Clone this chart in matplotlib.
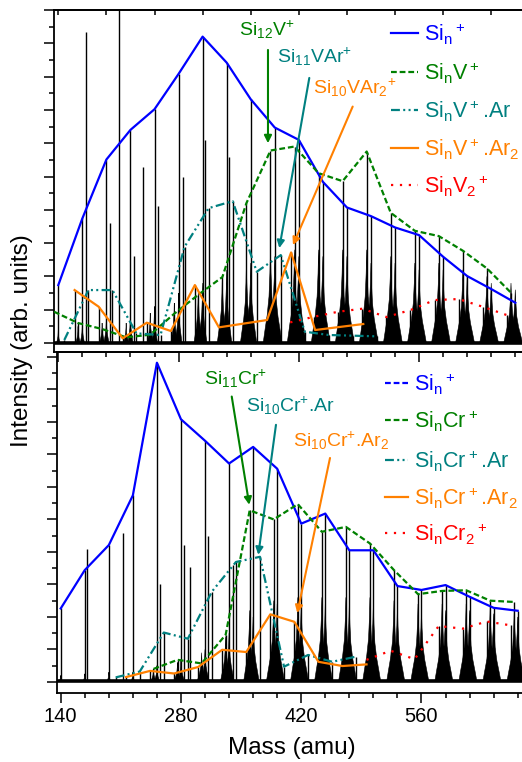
import matplotlib
matplotlib.use("Agg")
import matplotlib.pyplot as plt
from matplotlib.lines import Line2D
from matplotlib.ticker import MultipleLocator, FixedLocator, NullFormatter

plt.rcParams['font.family'] = ['Liberation Sans', 'DejaVu Sans']
plt.rcParams['mathtext.default'] = 'regular'

# ---------------- data: top panel (Si_n V clusters) ----------------
si_mass = [140, 168, 196, 224, 252, 280, 308, 336, 364, 392, 420, 448, 476, 504, 532, 560, 588, 616, 644, 672]
top_si = [1.74, 3.74, 5.51, 6.40, 7.02, 8.08, 9.20, 8.42, 7.32, 6.47, 6.10, 4.84, 4.07, 3.81, 3.47, 3.24, 2.59, 2.01, 1.62, 1.21]

top_v_mass = [135, 163, 191, 219, 247, 275, 303, 331, 359, 387, 415, 443, 471, 499, 527, 555, 583, 611, 639, 667]
top_v = [0.94, 0.60, 0.42, 0.17, 0.25, 0.88, 1.45, 1.98, 4.20, 5.78, 5.90, 5.10, 4.86, 5.75, 3.91, 3.37, 3.21, 2.77, 2.24, 1.51]

top_var_mass = [147, 175, 203, 231, 259, 287, 315, 343, 371, 399, 427, 455, 483, 511]
top_var = [0.09, 1.59, 1.59, 0.29, 0.24, 2.89, 4.05, 4.26, 2.14, 2.64, 0.34, 0.24, 0.22, 0.20]

top_var2_mass = [159, 187, 215, 243, 271, 299, 327, 355, 383, 411, 439, 467, 495]
top_var2 = [1.59, 1.09, 0.14, 0.61, 0.36, 1.74, 0.47, 0.58, 0.69, 2.72, 0.39, 0.48, 0.57]

top_v2_mass = [410, 438, 466, 494, 522, 550, 578, 606, 634, 662]
top_v2 = [0.62, 0.79, 0.94, 1.03, 0.78, 0.99, 1.29, 1.32, 1.09, 0.84]

# extra sharp peaks of the raw spectrum (mass, height)
top_extra_mass = [172, 200, 211, 228, 239, 256, 285, 311, 339]
top_extra_h = [9.35, 3.60, 10.5, 2.60, 5.30, 4.10, 5.00, 6.10, 5.60]

# broad cluster envelopes of the raw spectrum (mass, height, half width in amu)
top_hump_mass = [140, 163, 168, 191, 196, 219, 224, 247, 252, 275, 280, 303, 308, 331, 336, 359, 364,
                 387, 392, 415, 420, 443, 448, 471, 476, 499, 504, 527, 532, 555, 560, 583, 588,
                 611, 616, 639, 644, 667, 672]
top_hump_h = [0.4, 0.5, 0.6, 0.6, 0.8, 0.6, 0.9, 0.9, 1.1, 1.2, 1.5, 1.6, 1.8, 2.0, 2.2, 2.4, 2.4,
              2.8, 2.6, 2.8, 2.6, 2.8, 2.6, 2.8, 2.6, 2.8, 2.4, 2.6, 2.4, 2.4, 2.2, 2.4, 2.2,
              2.2, 2.0, 2.0, 1.8, 1.8, 1.6]
top_hump_w = [2, 2.5, 2.5, 3, 3, 3, 3, 3.5, 3.5, 4, 4, 5, 5, 6, 6, 7, 7,
              8.5, 8.5, 8.5, 8.5, 8.5, 8.5, 8.5, 8.5, 8.5, 8.5, 8.5, 8.5, 8.5, 8.5, 8.5, 8.5,
              8.5, 8.5, 8.5, 8.5, 8.5, 8.5]

# ---------------- data: bottom panel (Si_n Cr clusters) ----------------
bot_si = [2.26, 3.44, 4.21, 5.74, 9.82, 8.08, 7.42, 6.72, 7.23, 6.56, 4.87, 5.18, 4.05, 4.05, 2.95, 2.83, 2.98, 2.62, 2.28, 2.19]

bot_cr_mass = [248, 276, 304, 332, 360, 388, 416, 444, 472, 500, 528, 556, 584, 612, 640, 668]
bot_cr = [0.40, 0.68, 0.57, 1.45, 5.28, 5.00, 5.47, 4.62, 4.77, 4.26, 3.44, 2.70, 2.80, 2.82, 2.50, 2.46]

bot_crar_mass = [204, 232, 260, 288, 316, 344, 372, 400, 428, 456, 484]
bot_crar = [0.14, 0.32, 1.52, 1.33, 2.78, 3.69, 3.85, 0.47, 0.83, 0.62, 0.78]

bot_crar2_mass = [216, 244, 272, 300, 328, 356, 384, 412, 440, 468, 496]
bot_crar2 = [0.15, 0.34, 0.26, 0.46, 0.99, 0.92, 2.08, 1.85, 0.62, 0.49, 0.54]

bot_cr2_mass = [496, 524, 552, 580, 608, 636, 664]
bot_cr2 = [0.68, 0.96, 0.70, 1.72, 1.64, 1.86, 1.74]

bot_extra_mass = [171, 212, 256, 284, 291, 311, 340]
bot_extra_h = [4.10, 4.58, 3.00, 4.20, 3.54, 4.50, 3.60]

bot_hump_mass = [140, 168, 196, 224, 248, 252, 276, 280, 304, 308, 332, 336, 360, 364,
                 388, 392, 416, 420, 444, 448, 472, 476, 500, 504, 528, 532, 556, 560,
                 584, 588, 612, 616, 640, 644, 668, 672]
bot_hump_h = [0.2, 0.25, 0.3, 0.3, 0.4, 0.5, 0.6, 0.7, 0.9, 1.0, 1.4, 1.5, 2.2, 2.0,
              2.5, 2.4, 2.6, 2.4, 2.6, 2.4, 2.6, 2.4, 2.6, 2.4, 2.5, 2.3, 2.4, 2.2,
              2.4, 2.2, 2.4, 2.2, 2.3, 2.1, 2.2, 2.0]
bot_hump_w = [2, 2, 2, 2, 3, 3, 4, 4, 5, 5, 6, 6, 7, 7,
              8.5, 8.5, 8.5, 8.5, 8.5, 8.5, 8.5, 8.5, 8.5, 8.5, 8.5, 8.5, 8.5, 8.5,
              8.5, 8.5, 8.5, 8.5, 8.5, 8.5, 8.5, 8.5]

BLUE, GREEN, TEAL, ORANGE, RED = '#0000FF', '#008000', '#008080', '#FF8000', '#FF0000'
DASH = (2.6, 1.3)
DASHDOT = (4.0, 1.5, 0.9, 1.5, 0.9, 1.5)
DOT = (1.0, 3.0)

W, H = 522, 762
fig = plt.figure(figsize=(W / 100, H / 100), dpi=100)

ax1 = fig.add_axes([54 / W, 1 - 352 / H, (525 - 54) / W, 342 / H])
ax2 = fig.add_axes([56.5 / W, 1 - 693 / H, (525 - 56.5) / W, 341 / H])

# envelope shape (style only): sharp top, broad foot
FX = [-1, -0.75, -0.45, -0.2, -0.07, 0, 0.07, 0.2, 0.45, 0.75, 1]
FY = [0, 0.14, 0.3, 0.5, 0.75, 1, 0.75, 0.5, 0.3, 0.14, 0]


def draw_spectrum(ax, spikes_m, spikes_h, hm, hh, hw, base):
    for m, h, w in zip(hm, hh, hw):
        ax.fill([m + f * w for f in FX], [base + g * (h - base) for g in FY],
                color='k', lw=0.4, zorder=1)
    ax.vlines(spikes_m, base, spikes_h, color='k', lw=1.0, zorder=1)
    ax.plot([130, 690], [base, base], color='k', lw=2.6, zorder=1)


top_spikes_m = si_mass + top_v_mass[1:] + top_var_mass + top_var2_mass + top_v2_mass + top_extra_mass
top_spikes_h = top_si + top_v[1:] + top_var + top_var2 + top_v2 + top_extra_h
draw_spectrum(ax1, top_spikes_m, top_spikes_h, top_hump_mass, top_hump_h, top_hump_w, 0.0)

bot_spikes_m = si_mass + bot_cr_mass + bot_crar_mass + bot_crar2_mass + bot_cr2_mass + bot_extra_mass
bot_spikes_h = bot_si + bot_cr + bot_crar + bot_crar2 + bot_cr2 + bot_extra_h
draw_spectrum(ax2, bot_spikes_m, bot_spikes_h, bot_hump_mass, bot_hump_h, bot_hump_w, 0.02)

LW = 1.6
# top series
ax1.plot(si_mass, top_si, color=BLUE, lw=LW, zorder=4)
ax1.plot(top_v_mass, top_v, color=GREEN, lw=LW, dashes=DASH, zorder=4)
ax1.plot(top_var_mass, top_var, color=TEAL, lw=LW, dashes=DASHDOT, zorder=4)
ax1.plot(top_var2_mass, top_var2, color=ORANGE, lw=LW, zorder=4)
ax1.plot(top_v2_mass, top_v2, color=RED, lw=LW, dashes=DOT, zorder=4)
# bottom series
ax2.plot(si_mass, bot_si, color=BLUE, lw=LW, zorder=4)
ax2.plot(bot_cr_mass, bot_cr, color=GREEN, lw=LW, dashes=DASH, zorder=4)
ax2.plot(bot_crar_mass, bot_crar, color=TEAL, lw=LW, dashes=DASHDOT, zorder=4)
ax2.plot(bot_crar2_mass, bot_crar2, color=ORANGE, lw=LW, zorder=4)
ax2.plot(bot_cr2_mass, bot_cr2, color=RED, lw=LW, dashes=DOT, zorder=4)

ax1.set_xlim(135.0, 683.3)
ax1.set_ylim(-0.27, 10.0)
ax2.set_xlim(135.1, 680.5)
ax2.set_ylim(-0.34, 10.15)

for ax in (ax1, ax2):
    ax.xaxis.set_major_locator(FixedLocator([140, 280, 420, 560]))
    ax.xaxis.set_minor_locator(MultipleLocator(28))
    ax.yaxis.set_major_locator(MultipleLocator(1))
    ax.yaxis.set_minor_locator(MultipleLocator(0.5))
    ax.yaxis.set_major_formatter(NullFormatter())
    ax.tick_params(which='major', direction='out', length=7, width=1.1, top=False, right=False)
    ax.tick_params(which='minor', direction='out', length=3.6, width=1.1, top=False, right=False)
    for s in ax.spines.values():
        s.set_linewidth(1.3)
    ax.spines['right'].set_visible(False)
    ax.set_facecolor('none')

ax1.xaxis.set_major_formatter(NullFormatter())
ax2.tick_params(axis='x', which='major', labelsize=14.5, pad=3)

sec = ax1.secondary_xaxis('top')
sec.xaxis.set_major_locator(MultipleLocator(56, offset=28))
sec.xaxis.set_major_formatter(NullFormatter())
sec.tick_params(direction='in', length=3.5, width=1.1)
sec.spines['top'].set_linewidth(1.3)

fig.text(22 / W, 1 - 341 / H, 'Intensity (arb. units)', rotation=90, ha='center', va='center', fontsize=17.5)
fig.text(292 / W, 1 - 748 / H, 'Mass (amu)', ha='center', va='center', fontsize=17.5)

# annotations with arrows (data coordinates)
AFS = 14


def note(ax, text, tx, ty, start, end, color):
    ax.text(tx, ty, text, color=color, fontsize=AFS, ha='left', va='baseline', zorder=6)
    ax.annotate('', xy=end, xytext=start,
                arrowprops=dict(arrowstyle='-|>', color=color, lw=1.5, mutation_scale=11,
                                shrinkA=0, shrinkB=0), zorder=6)


note(ax1, r'Si$_{12}$V$^{+}$', 350.4, 9.22, (384.1, 8.80), (384.1, 6.0), GREEN)
note(ax1, r'Si$_{11}$VAr$^{+}$', 394.6, 8.41, (432.2, 7.96), (397.3, 2.85), TEAL)
note(ax1, r'Si$_{10}$VAr$_2$$^{+}$', 436.5, 7.48, (482.7, 7.10), (413.2, 2.94), ORANGE)

note(ax2, r'Si$_{11}$Cr$^{+}$', 306.8, 9.14, (339.1, 8.78), (359.5, 5.45), GREEN)
note(ax2, r'Si$_{10}$Cr$^{+}$.Ar', 355.7, 8.32, (390.6, 7.91), (370.0, 3.91), TEAL)
note(ax2, r'Si$_{10}$Cr$^{+}$.Ar$_2$', 410.4, 7.24, (453.5, 6.89), (415.4, 2.12), ORANGE)

# legends drawn manually
LFS = 15.5


def draw_legend(entries, x0, x1, xt, rows):
    for (label, color, dashes), y in zip(entries, rows):
        kw = {} if dashes is None else {'dashes': dashes}
        fig.add_artist(Line2D([x0 / W, x1 / W], [1 - y / H, 1 - y / H], color=color, lw=LW, **kw))
        fig.text(xt / W, 1 - (y + 8) / H, label, color=color, fontsize=LFS, ha='left', va='baseline')


draw_legend([(r'Si$_n$$^+$', BLUE, None),
             (r'Si$_n$V$^+$', GREEN, DASH),
             (r'Si$_n$V$^+$.Ar', TEAL, DASHDOT),
             (r'Si$_n$V$^+$.Ar$_2$', ORANGE, None),
             (r'Si$_n$V$_2$$^+$', RED, DOT)],
            391, 418, 424, [33, 72, 110, 148, 185])

draw_legend([(r'Si$_n$$^+$', BLUE, DASH),
             (r'Si$_n$Cr$^+$', GREEN, DASH),
             (r'Si$_n$Cr$^+$.Ar', TEAL, DASHDOT),
             (r'Si$_n$Cr$^+$.Ar$_2$', ORANGE, None),
             (r'Si$_n$Cr$_2$$^+$', RED, DOT)],
            385, 408, 414, [383, 420, 460, 497, 533])

fig.savefig('out.png', dpi=100)
